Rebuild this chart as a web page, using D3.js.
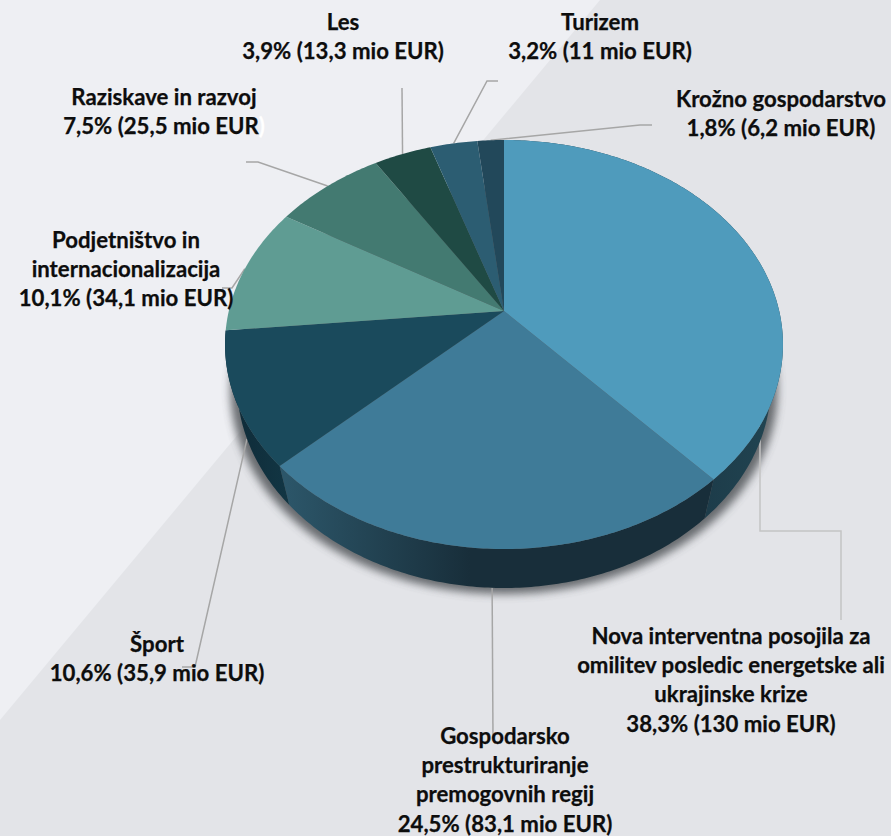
<!DOCTYPE html>
<html>
<head>
<meta charset="utf-8">
<script src="https://cdn.jsdelivr.net/npm/d3@7"></script>
<style>
    html, body { margin: 0; padding: 0; background: #e3e4e9; overflow: hidden; }
    text { font-family: Lato, sans-serif; font-weight: 700; font-size: 22.2px; fill: #0d0d0d; stroke: #0d0d0d; stroke-width: 0.25px; }
</style>
</head>
<body>
<svg id="chart" width="891" height="836"></svg>
<script>
const names = [
    ["Nova interventna posojila za", "omilitev posledic energetske ali", "ukrajinske krize"],
    ["Gospodarsko", "prestrukturiranje", "premogovnih regij"],
    ["Šport"],
    ["Podjetništvo in", "internacionalizacija"],
    ["Raziskave in razvoj"],
    ["Les"],
    ["Turizem"],
    ["Krožno gospodarstvo"]
];
const shares = [38.3, 24.5, 10.6, 10.1, 7.5, 3.9, 3.2, 1.8];
const amounts = ["130", "83,1", "35,9", "34,1", "25,5", "13,3", "11", "6,2"];
const topColors = ["#4f9bbc", "#3f7b98", "#1a4a5c", "#5f9c93", "#437a71", "#1f4a44", "#2c5d72", "#22485a"];

// label placement, same order as the slices
const labelX = [731, 505, 157, 126, 164, 343, 600, 781];
const labelY = [644, 744, 652, 248, 105, 30, 30, 107];
const lineGap = 29.2;
const leaderBend = [
    [[760, 440], [760, 531], [841, 531], [841, 620]],
    [[493, 738]],
    [[195, 667], [182, 667]],
    [[232, 288], [222, 288]],
    [[258, 162], [246, 162]],
    [[402, 88]],
    [[487, 81], [498, 81]],
    [[640, 125], [652, 125]]
];
const leaderOnBase = [false, true, true, false, false, false, false, false];

// 3D pie: circle on a tilted plane, apex and perspective fitted to the picture
const cx = 504, cy = 311;
const tilt = -0.1638;
const radX = 275.2, radY = 199;
const depth = 39, baseScale = 0.957;

function project(angle, lower) {
    let u = Math.sin(angle), v = -Math.cos(angle);
    let w = 1 + tilt * v;
    let x = radX * u / w, y = radY * v / w;
    if (lower) return [cx + x * baseScale, cy + y + depth];
    return [cx + x, cy + y];
}

function rim(a0, a1, lower) {
    let n = Math.max(2, Math.ceil((a1 - a0) * 80));
    return d3.range(n + 1).map(i => project(a0 + (a1 - a0) * i / n, lower));
}

const slices = d3.pie().sort(null).value(d => d).startAngle(0).endAngle(2 * Math.PI)(shares);
const pathOf = d3.line();
const svg = d3.select("#chart");
const defs = svg.append("defs");

defs.append("filter").attr("id", "blur")
    .attr("x", "-10%").attr("y", "-10%").attr("width", "120%").attr("height", "120%")
    .append("feGaussianBlur").attr("stdDeviation", 4);

function wallGradient(id, x1, x2, c1, c2) {
    let g = defs.append("linearGradient").attr("id", id)
        .attr("gradientUnits", "userSpaceOnUse")
        .attr("x1", x1).attr("x2", x2).attr("y1", 0).attr("y2", 0);
    g.append("stop").attr("offset", 0).attr("stop-color", c1);
    g.append("stop").attr("offset", 1).attr("stop-color", c2);
}
wallGradient("wall0", 705, 775, "#1d3c4a", "#214451");
wallGradient("wall1", 285, 470, "#2c5669", "#182e3a");
wallGradient("wall2", 232, 290, "#0f2b38", "#123644");

// background
svg.append("rect").attr("width", 891).attr("height", 836).attr("fill", "#e3e4e8");
svg.append("path").attr("d", pathOf([[0, 0], [600, 0], [0, 720]])).attr("fill", "#eeeff3");

// shadow under the pie
svg.append("path")
    .attr("d", pathOf(rim(0, 2 * Math.PI, true).map(p => [cx + (p[0] - cx) * 1.025, p[1] + 6])) + "Z")
    .attr("fill", "#4a4d51")
    .attr("opacity", 0.8)
    .attr("filter", "url(#blur)");

// leader lines
svg.append("g").selectAll("path")
    .data(slices)
    .join("path")
    .attr("d", (d, i) => {
        let mid = (d.startAngle + d.endAngle) / 2;
        return pathOf([project(mid, leaderOnBase[i])].concat(leaderBend[i]));
    })
    .attr("fill", "none")
    .attr("stroke", (d, i) => i == 0 ? "#c4c4c4" : "#a6a6a6")
    .attr("stroke-width", 1.5);

// side walls, only the three front slices show
svg.append("g").selectAll("path")
    .data(slices.slice(0, 3))
    .join("path")
    .attr("d", d => {
        let top = rim(d.startAngle, d.endAngle, false);
        let low = rim(d.startAngle, d.endAngle, true).reverse();
        return pathOf(top.concat(low)) + "Z";
    })
    .attr("fill", (d, i) => `url(#wall${i})`);

// top face
svg.append("g").selectAll("path")
    .data(slices)
    .join("path")
    .attr("d", d => pathOf([[cx, cy]].concat(rim(d.startAngle, d.endAngle, false))) + "Z")
    .attr("fill", (d, i) => topColors[i]);

// labels
const label = svg.append("g").selectAll("text")
    .data(names)
    .join("text")
    .attr("text-anchor", "middle")
    .attr("y", (d, i) => labelY[i]);

label.each(function(lines, i) {
    let t = d3.select(this);
    lines.forEach((s, k) => {
        t.append("tspan").attr("x", labelX[i]).attr("y", labelY[i] + k * lineGap).text(s);
    });
    let amountLine = t.append("tspan")
        .attr("x", labelX[i])
        .attr("y", labelY[i] + lines.length * lineGap);
    let share = String(shares[i]).replace(".", ",");
    if (i == 4) {
        // closing bracket is white in this label
        amountLine.text(`${share}% (${amounts[i]} mio EUR`);
        amountLine.append("tspan").style("fill", "#ffffff").style("stroke", "#ffffff").text(")");
    } else {
        amountLine.text(`${share}% (${amounts[i]} mio EUR)`);
    }
});
</script>
</body>
</html>
